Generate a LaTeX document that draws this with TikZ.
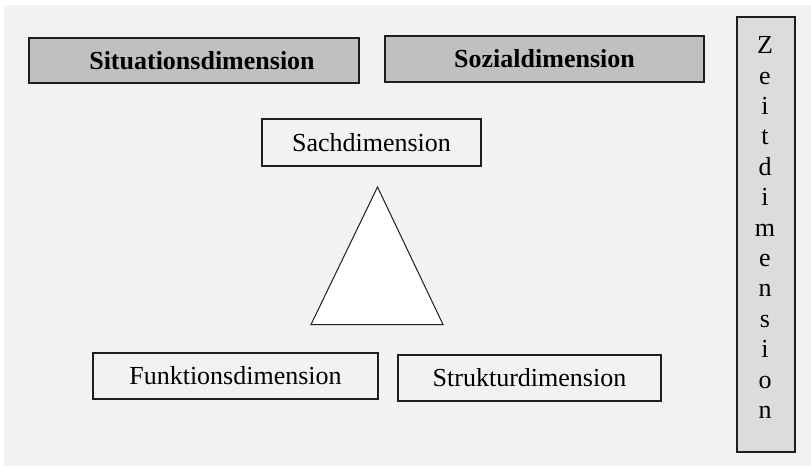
\documentclass[tikz,border=0pt]{standalone}
\usepackage{fontspec}
\setmainfont{Liberation Serif}
\definecolor{bggray}{HTML}{F2F2F2}
\definecolor{darkfill}{HTML}{C0C0C0}
\definecolor{lightfill}{HTML}{DCDCDC}
\definecolor{edge}{HTML}{1E1E1E}
\tikzset{
  dimbox/.style={draw=edge, line width=1.3pt, inner sep=0pt, minimum height=46pt,
    font=\fontsize{26}{30}\selectfont, text=black},
  boldbox/.style={dimbox, fill=darkfill, font=\fontsize{26}{30}\selectfont\bfseries},
  plainbox/.style={dimbox},
}
\begin{document}
\begin{tikzpicture}[x=1pt,y=1pt]
\useasboundingbox (0,0) rectangle (811,-466);
\fill[white] (0,0) rectangle (811,-466);
\fill[bggray] (4,-5) rectangle (811,-466);
% top boxes
\node[boldbox, minimum width=330pt, minimum height=45pt] (sit) at (194,-60.5) {\hspace*{16pt}Situationsdimension};
\node[boldbox, minimum width=319pt] (soz) at (544.5,-59) {Sozialdimension};
% time dimension
\node[draw=edge, line width=1.3pt, fill=lightfill, minimum width=58pt, minimum height=435pt, inner sep=0pt] (zeit) at (766,-234.5) {};
\node[anchor=north, inner sep=0pt, align=center, font=\fontsize{26}{30.4}\selectfont] (zeittext) at (765,-36.5)
  {Z\\e\\i\\t\\d\\i\\m\\e\\n\\s\\i\\o\\n};
% Sachdimension
\node[plainbox, minimum width=219pt, minimum height=47pt] (sach) at (371.5,-142.5) {Sachdimension};
% triangle
\coordinate (apex) at (377.5,-187);
\coordinate (bl) at (311,-324.5);
\coordinate (br) at (443,-324.5);
\draw[edge, line width=1pt, fill=white] (apex) -- (br) -- (bl) -- cycle;
% bottom boxes
\node[plainbox, minimum width=285pt] (funk) at (235.5,-376) {Funktionsdimension};
\node[plainbox, minimum width=263pt] (struk) at (529.5,-378) {Strukturdimension};
\end{tikzpicture}
\end{document}
